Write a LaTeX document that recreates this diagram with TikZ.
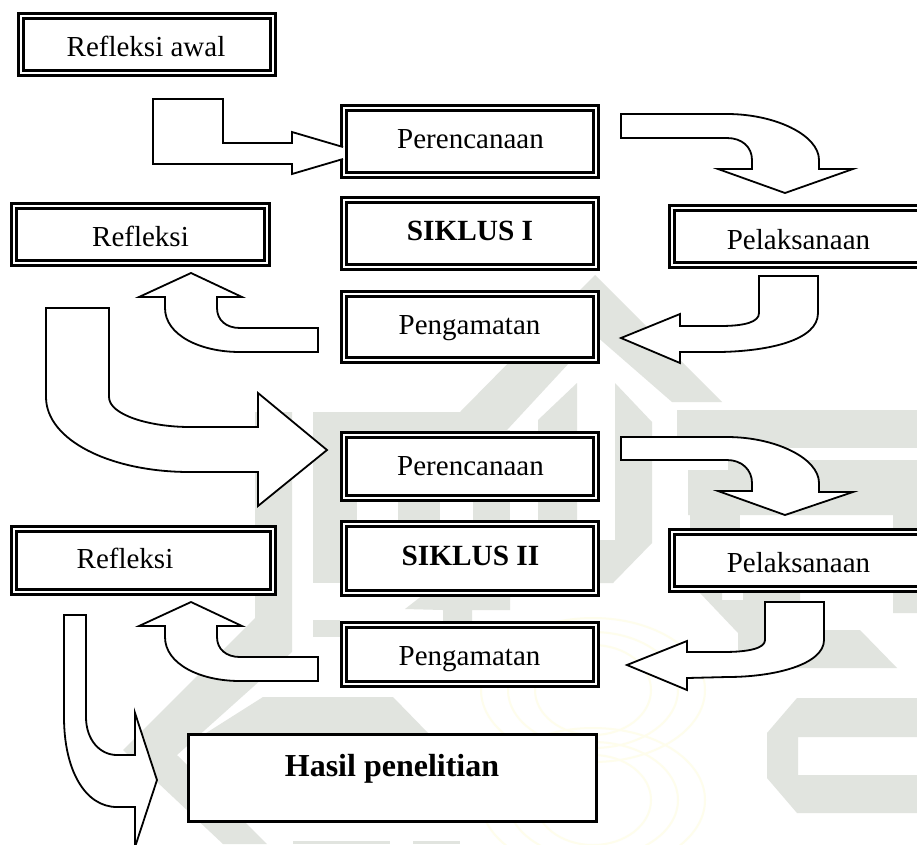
\documentclass[tikz,border=0pt]{standalone}
\usepackage{fontspec}
\setmainfont{Liberation Serif}
\definecolor{wmgray}{HTML}{E1E4DF}
\definecolor{wmyellow}{HTML}{FEFDEC}
\tikzset{
  x=1pt,y=-1pt,
  wm/.style={fill=wmgray,draw=none},
  seal/.style={draw=wmyellow,line width=2pt},
  dblbox/.style={draw=black,fill=white,double=white,line width=2.6pt,double distance=2.6pt,inner sep=0pt,sharp corners,miter limit=10},
  plainbox/.style={draw=black,fill=white,line width=2.1pt,inner sep=0pt},
  label/.style={inner sep=0pt,anchor=base,text=black,font=\fontsize{29}{32}\selectfont},
  boldlabel/.style={label,font=\fontsize{29.3}{32}\selectfont\bfseries},
  blockarrow/.style={draw=black,fill=white,line width=1.8pt,line join=miter,miter limit=10},
}
\newcommand{\dblframe}[5]{% name, x1,y1,x2,y2
  \pgfmathsetlengthmacro{\bw}{#4-#2-7.8}%
  \pgfmathsetlengthmacro{\bh}{#5-#3-7.8}%
  \node[dblbox,minimum width=\bw,minimum height=\bh] (#1) at ({(#2+#4)/2},{(#3+#5)/2}) {};}
\begin{document}
\begin{tikzpicture}
\useasboundingbox (0,0) rectangle (917,844);
\clip (0,0) rectangle (917,844);
\fill[white] (0,0) rectangle (917,844);
% watermark
\fill[wm] (313,412)--(460,412)--(595,275)--(722,402)--(672,402)--(595,335)--(507,430)--(507,445)--(313,445)--cycle;
\fill[wm] (255,412)--(292,412)--(292,652)--(177,755)--(267,844)--(223,844)--(123,750)--(255,618)--cycle;
\fill[wm] (313,412)--(357,412)--(357,583)--(313,583)--cycle;
\fill[wm] (398,430) rectangle (440,540);
\fill[wm] (473,430) rectangle (510,540);
\fill[wm] (538,420)--(577,383)--(577,540)--(538,540)--cycle;
\fill[wm] (615,383)--(652,422)--(652,543)--(613,583)--(500,583)--(500,540)--(615,540)--cycle;
\fill[wm] (677,410) rectangle (917,448);
\fill[wm] (688,470)--(728,470)--(728,460)--(917,460)--(917,613)--(893,613)--(893,515)--(688,515)--cycle;
\fill[wm] (690,500) rectangle (740,540);
\fill[wm] (700,593)--(722,593)--(722,600)--(743,600)--(743,593)--(800,593)--(800,630)--(860,630)--(897,668)--(738,668)--(738,633)--cycle;
\fill[wm] (405,609)--(423,595)--(510,595)--(510,610)--(472,610)--(472,622)--(443,622)--(443,610)--cycle;
\fill[wm] (313,620) rectangle (340,637);
\fill[wm] (263,697)--(393,697)--(430,735)--(430,822)--(267,822)--(203,735)--cycle;
\fill[wm] (293,841) rectangle (390,844);
\fill[wm] (413,841) rectangle (460,844);
\fill[wm,even odd rule] (797,698)--(917,698)--(917,813)--(797,813)--(767,778)--(767,733)--cycle
  (798,737)--(917,737)--(917,775)--(798,775)--cycle;
% seal
\draw[seal] (593,690) ellipse (112 and 72);
\draw[seal] (593,690) ellipse (85 and 58);
\draw[seal] (593,690) ellipse (58 and 45);
\draw[seal] (593,800) ellipse (112 and 72);
\draw[seal] (593,800) ellipse (85 and 58);
\draw[seal] (593,800) ellipse (58 and 45);
% boxes
\dblframe{refawal}{17}{12}{277}{77}
\dblframe{perA}{340}{104}{600}{179}
\dblframe{sikA}{340}{196}{600}{271}
\dblframe{pengA}{340}{290}{600}{364}
\dblframe{refA}{10}{202}{271}{267}
\dblframe{pelA}{668}{204}{928}{269}
\dblframe{perB}{340}{431}{600}{502}
\dblframe{sikB}{340}{520}{600}{597}
\dblframe{pengB}{340}{621}{600}{688}
\dblframe{refB}{10}{525}{277}{596}
\dblframe{pelB}{668}{528}{928}{593}
\node[plainbox,minimum width=408pt,minimum height=87pt] (hasil) at (392.5,778) {};
% labels
\node[label] (t1) at (146,56) {Refleksi awal};
\node[label] (t2) at (470.5,148) {Perencanaan};
\node[boldlabel] (t3) at (470,240) {SIKLUS I};
\node[label] (t4) at (469.5,334) {Pengamatan};
\node[label] (t5) at (140.5,246) {Refleksi};
\node[label] (t6) at (798.5,249) {Pelaksanaan};
\node[label] (t7) at (470.5,475) {Perencanaan};
\node[boldlabel] (t8) at (470.5,565) {SIKLUS II};
\node[label] (t9) at (469.5,665) {Pengamatan};
\node[label] (t10) at (125,568) {Refleksi};
\node[label] (t11) at (798.5,572) {Pelaksanaan};
\node[label,font=\fontsize{32}{36}\selectfont\bfseries] (t12) at (392,776) {Hasil penelitian};
% block arrows
\fill[white] (153,99)--(223,99)--(223,143)--(292,143)--(292,132)--(343,147)--(343,159)--(292,174)--(292,164)--(153,164)--cycle;
\draw[blockarrow,fill=none] (343,147)--(292,132)--(292,143)--(223,143)--(223,99)--(153,99)--(153,164)--(292,164)--(292,174)--(343,159);
% Perencanaan -> Pelaksanaan I
\draw[blockarrow] (621,114)--(727,114) .. controls (775,114) and (819,135) .. (819,160)--(819,169)--(853,169)--(785,193)--(718,169)--(752,169)--(752,160) .. controls (752,147) and (742,138) .. (727,138)--(621,138)--cycle;
% Pelaksanaan -> Pengamatan I
\draw[blockarrow] (759,276)--(818,276)--(818,313) .. controls (818,340) and (770,351) .. (720,352)--(680,352)--(680,363)--(621,338)--(680,314)--(680,326)--(720,326) .. controls (745,326) and (759,322) .. (759,313)--cycle;
% Pengamatan -> Refleksi I
\draw[blockarrow] (318,328)--(240,328) .. controls (226,328) and (217,320) .. (217,308)--(217,297)--(242,297)--(191,273)--(139,297)--(165,297)--(165,308) .. controls (165,335) and (200,352) .. (240,352)--(318,352)--cycle;
% Refleksi -> Perencanaan II
\draw[blockarrow] (46,308)--(109,308)--(109,397) .. controls (109,415) and (150,427) .. (190,427)--(258,427)--(258,393)--(327,450)--(258,506)--(258,472)--(190,472) .. controls (110,472) and (46,440) .. (46,397)--cycle;
% Perencanaan -> Pelaksanaan II
\draw[blockarrow] (621,437)--(727,437) .. controls (775,437) and (819,458) .. (819,483)--(819,492)--(853,492)--(785,515)--(718,491)--(752,491)--(752,483) .. controls (752,470) and (742,460) .. (727,460)--(621,460)--cycle;
% Pelaksanaan -> Pengamatan II
\draw[blockarrow] (765,602)--(824,602)--(824,640) .. controls (824,664) and (776,677) .. (727,677)--(687,678)--(687,690)--(627,665)--(687,641)--(687,652)--(723,652) .. controls (750,652) and (765,648) .. (765,640)--cycle;
% Pengamatan -> Refleksi II
\draw[blockarrow] (318,657)--(240,657) .. controls (226,657) and (217,649) .. (217,637)--(217,626)--(242,626)--(191,602)--(139,626)--(165,626)--(165,637) .. controls (165,664) and (200,681) .. (240,681)--(318,681)--cycle;
% Refleksi -> Hasil
\draw[blockarrow] (64,615)--(86,615)--(86,717) .. controls (86,740) and (100,755) .. (117,755)--(135,755)--(135,713)--(157,780)--(135,847)--(135,807)--(117,807) .. controls (85,807) and (64,770) .. (64,717)--cycle;
\end{tikzpicture}
\end{document}
